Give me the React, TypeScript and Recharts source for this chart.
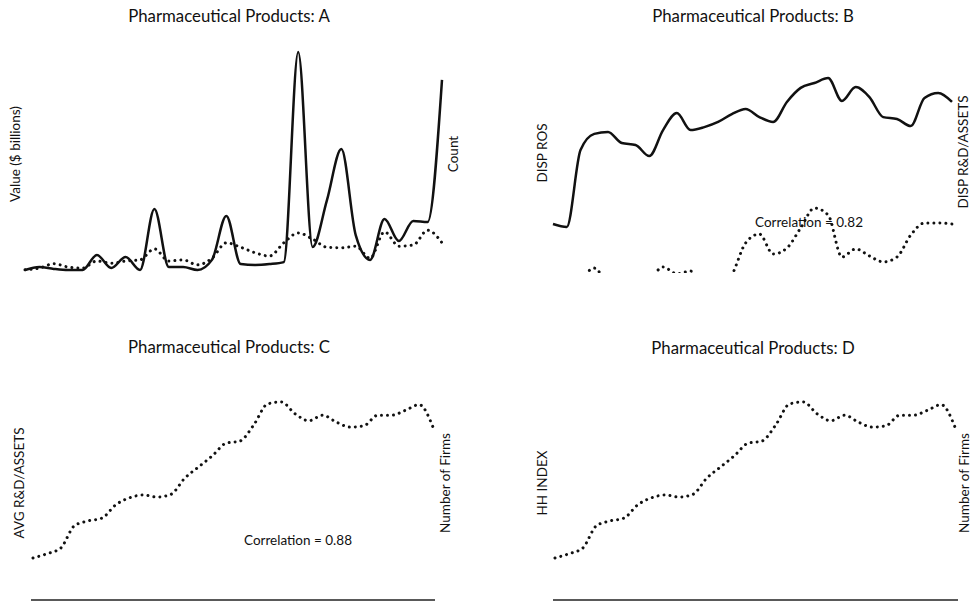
import { LineChart, Line, XAxis, YAxis } from 'recharts';

const years = [
  1980, 1981, 1982, 1983, 1984, 1985, 1986, 1987, 1988, 1989,
  1990, 1991, 1992, 1993, 1994, 1995, 1996, 1997, 1998, 1999,
  2000, 2001, 2002, 2003, 2004, 2005, 2006, 2007, 2008, 2009,
];

// panel A
const valueA = [0.9, 2.3, 1.4, 0.9, 0.9, 7.7, 1.8, 6.8, 0.9, 28.6, 2.3, 2.3, 0.9, 5.5, 25.5, 3.6, 3.2, 3.6, 4.5, 100, 11.4, 32.7, 55.9, 16.8, 5.5, 24.1, 14.1, 23.2, 22.7, 87.3];
const countA = [4, 7, 15, 9, 7, 20, 16, 20, 22, 42, 20, 22, 13, 25, 53, 45, 35, 29, 53, 71, 60, 45, 44, 47, 25, 73, 47, 49, 76, 53];

// panel B
const dispRos = [23.0, 21.6, 57.7, 65.3, 66.2, 61.0, 60.1, 54.9, 67.1, 75.1, 67.1, 68.5, 70.9, 74.6, 77.0, 73.2, 70.9, 80.3, 86.9, 89.2, 91.5, 80.8, 87.3, 82.6, 73.2, 72.3, 69.0, 82.2, 84.5, 80.3];
const dispRdAssets = [7.3, 9.7, 16.7, 22.3, 14.4, 9.7, 12.0, 16.7, 22.8, 19.6, 20.9, 14.4, 12.0, 19.1, 34.1, 38.3, 28.9, 31.7, 41.1, 50.5, 47.2, 27.5, 31.3, 28.0, 25.2, 27.5, 37.8, 43.5, 43.5, 43.0];

// panels C and D
const numberOfFirms = [60, 66, 74, 106, 113, 117, 136, 146, 150, 147, 151, 174, 190, 206, 224, 227, 250, 280, 283, 266, 256, 264, 254, 247, 249, 264, 264, 271, 279, 247];

const data = years.map((year, i) => ({
  year,
  value: valueA[i],
  count: countA[i],
  dispRos: dispRos[i],
  dispRd: dispRdAssets[i],
  firms: numberOfFirms[i],
}));

const FONT = 'Lato, "Open Sans", sans-serif';
const INK = '#111';
const DOTTED = { stroke: INK, strokeWidth: 3, strokeDasharray: '0.01 6', strokeLinecap: 'round' as const };
const SOLID = { stroke: INK, strokeWidth: 2.5 };
const AXIS_LINE = { stroke: '#222', strokeWidth: 1.5 };

function Title({ x, y, children }: { x: number; y: number; children: React.ReactNode }) {
  return (
    <div
      style={{
        position: 'absolute', left: x, top: y, transform: 'translate(-50%, -50%)',
        fontSize: 16.8, lineHeight: 1, whiteSpace: 'nowrap', color: INK,
      }}
    >
      {children}
    </div>
  );
}

function Label({ x, y, rotate, children }: { x: number; y: number; rotate?: boolean; children: React.ReactNode }) {
  return (
    <div
      style={{
        position: 'absolute', left: x, top: y,
        transform: `translate(-50%, -50%)${rotate ? ' rotate(-90deg)' : ''}`,
        fontSize: 13.5, lineHeight: 1, whiteSpace: 'nowrap', color: INK,
      }}
    >
      {children}
    </div>
  );
}

export default function App() {
  return (
    <div
      style={{
        position: 'absolute', left: 0, top: 0, width: 973, height: 602,
        overflow: 'hidden', background: '#fff', fontFamily: FONT,
      }}
    >
      {/* A */}
      <div style={{ position: 'absolute', left: 0, top: 0 }}>
        <LineChart width={486} height={300} data={data} margin={{ top: 52, right: 44, bottom: 28, left: 25 }}>
          <XAxis type="number" dataKey="year" domain={['dataMin', 'dataMax']} hide />
          <YAxis yAxisId="value" domain={[0, 100]} hide />
          <YAxis yAxisId="count" orientation="right" domain={[0, 400]} hide />
          <Line yAxisId="count" type="monotone" dataKey="count" dot={false} {...DOTTED} isAnimationActive={false} />
          <Line yAxisId="value" type="monotone" dataKey="value" dot={false} {...SOLID} isAnimationActive={false} />
        </LineChart>
      </div>

      {/* B */}
      <div style={{ position: 'absolute', left: 486, top: 0 }}>
        <LineChart width={487} height={300} data={data} margin={{ top: 60, right: 21, bottom: 27, left: 67 }}>
          <XAxis type="number" dataKey="year" domain={['dataMin', 'dataMax']} hide />
          <YAxis yAxisId="ros" domain={[0, 100]} hide />
          <YAxis yAxisId="rd" orientation="right" domain={[20, 120]} allowDataOverflow hide />
          <Line yAxisId="rd" type="monotone" dataKey="dispRd" dot={false} {...DOTTED} isAnimationActive={false} />
          <Line yAxisId="ros" type="monotone" dataKey="dispRos" dot={false} {...SOLID} isAnimationActive={false} />
        </LineChart>
      </div>

      {/* C */}
      <div style={{ position: 'absolute', left: 0, top: 300 }}>
        <LineChart width={486} height={302} data={data} margin={{ top: 90, right: 51, bottom: 1, left: 31 }}>
          <XAxis
            type="number" dataKey="year" domain={['dataMin', 'dataMax']} padding={{ left: 2, right: 2 }}
            height={1} tick={false} tickLine={false} axisLine={AXIS_LINE}
          />
          <YAxis domain={[0, 300]} hide />
          <Line type="monotone" dataKey="firms" dot={false} {...DOTTED} isAnimationActive={false} />
        </LineChart>
      </div>

      {/* D */}
      <div style={{ position: 'absolute', left: 486, top: 300 }}>
        <LineChart width={487} height={302} data={data} margin={{ top: 90, right: 15, bottom: 1, left: 67 }}>
          <XAxis
            type="number" dataKey="year" domain={['dataMin', 'dataMax']} padding={{ left: 2, right: 3 }}
            height={1} tick={false} tickLine={false} axisLine={AXIS_LINE}
          />
          <YAxis domain={[0, 300]} hide />
          <Line type="monotone" dataKey="firms" dot={false} {...DOTTED} isAnimationActive={false} />
        </LineChart>
      </div>

      <Title x={229} y={16}>Pharmaceutical Products: A</Title>
      <Title x={753} y={16}>Pharmaceutical Products: B</Title>
      <Title x={229} y={347}>Pharmaceutical Products: C</Title>
      <Title x={753} y={348}>Pharmaceutical Products: D</Title>

      <Label x={16} y={154} rotate>Value ($ billions)</Label>
      <Label x={454} y={154} rotate>Count</Label>
      <Label x={543} y={153} rotate>DISP ROS</Label>
      <Label x={964} y={152} rotate>DISP R&amp;D/ASSETS</Label>
      <Label x={809} y={223}>Correlation = 0.82</Label>

      <Label x={20} y={483} rotate>AVG R&amp;D/ASSETS</Label>
      <Label x={446} y={483} rotate>Number of Firms</Label>
      <Label x={298} y={541}>Correlation = 0.88</Label>
      <Label x={543} y={483} rotate>HH INDEX</Label>
      <Label x={965} y={483} rotate>Number of Firms</Label>
    </div>
  );
}
